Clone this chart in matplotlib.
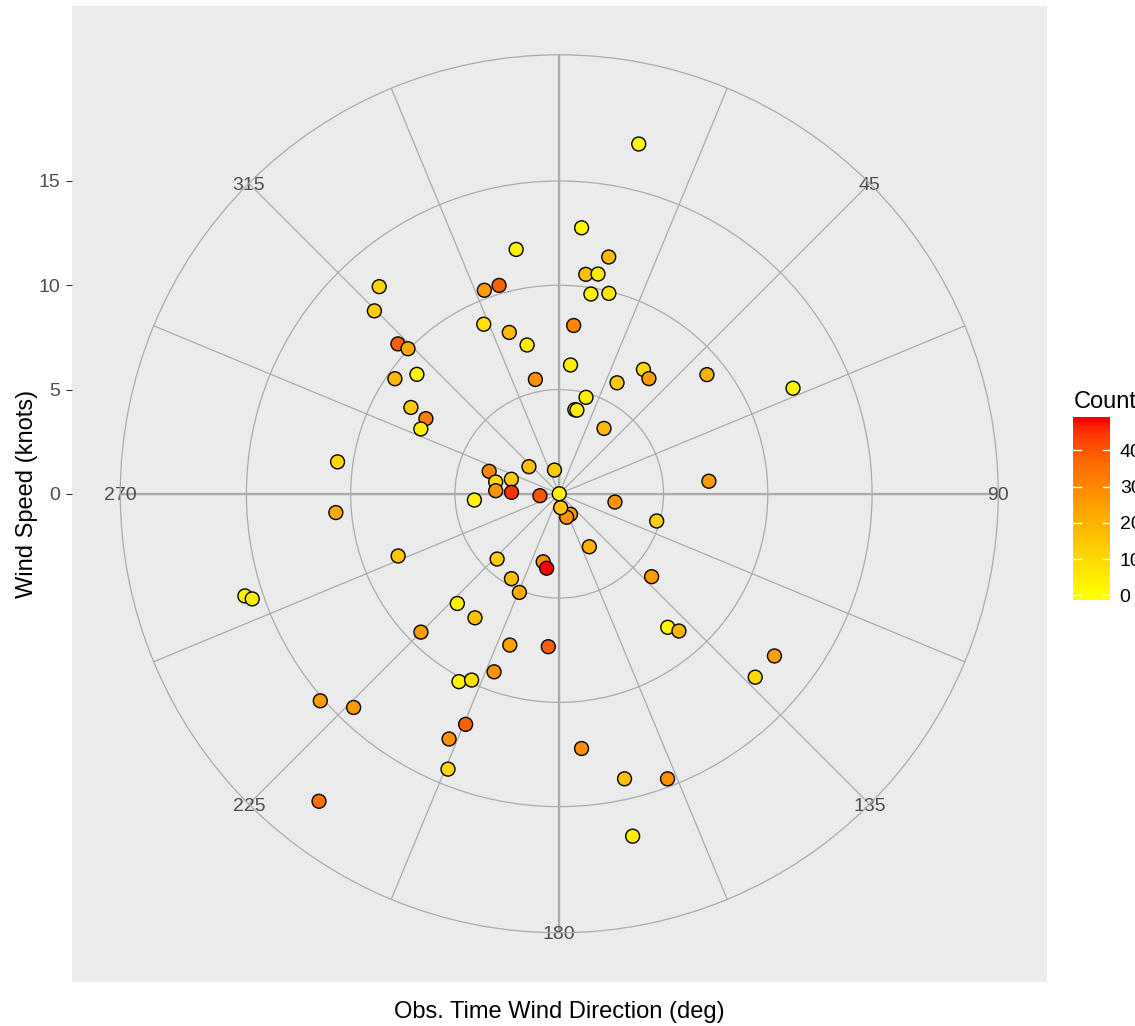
import numpy as np
import matplotlib
matplotlib.use("Agg")
import matplotlib.pyplot as plt
from matplotlib.colors import ListedColormap, Normalize

plt.rcParams["font.family"] = ["Liberation Sans", "DejaVu Sans"]

# ---- data: observed wind direction (deg), wind speed (knots), count ----
direction = [12.8, 4.8, 350.0, 11.8, 6.9, 10.0, 9.0, 13.9, 339.8, 343.9,
             336.0, 342.8, 347.8, 4.9, 5.0, 348.2, 15.5, 10.5, 11.9, 27.5,
             34.1, 37.9, 51.1, 65.7, 34.4, 85.2, 98.4, 105.6, 131.9, 140.9,
             138.9, 127.0, 133.1, 167.1, 159.2, 167.9, 175.0, 184.1, 198.1, 200.1,
             208.1, 205.2, 202.1, 204.2, 202.0, 222.9, 214.2, 225.0, 209.4, 202.0,
             223.6, 193.3, 189.6, 150.4, 151.4, 162.5, 174.2, 0.0, 264.4, 348.6,
             311.8, 287.8, 280.5, 286.9, 272.8, 271.8, 265.8, 299.4, 295.1, 300.2,
             310.0, 305.0, 312.9, 313.8, 314.7, 319.0, 278.2, 265.2, 248.9, 252.0,
             251.1, 229.1, 223.9, 218.0]
speed = [17.2, 12.8, 11.9, 11.6, 10.6, 10.7, 9.7, 9.9, 10.4, 10.4,
         8.9, 8.1, 7.3, 8.1, 6.2, 5.6, 4.8, 4.1, 4.1, 6.0,
         7.2, 7.0, 9.1, 12.3, 3.8, 7.2, 2.7, 4.85, 5.95, 8.25,
         8.73, 12.92, 12.87, 14.02, 14.62, 16.79, 12.26, 7.35, 7.63, 9.09,
         10.21, 9.87, 11.93, 12.89, 14.24, 7.18, 7.19, 9.38, 4.67, 5.10,
         4.32, 3.35, 3.62, 2.92, 1.12, 1.18, 0.67, 0.0, 0.93, 1.16,
         1.95, 3.53, 3.10, 2.40, 3.05, 2.29, 4.08, 7.34, 7.33, 8.23,
         8.91, 9.62, 10.56, 10.05, 12.47, 13.16, 10.74, 10.75, 8.28, 15.85,
         15.56, 15.16, 14.22, 18.71]
count = [2, 3, 4, 18, 17, 5, 3, 6, 25, 38,
         8, 18, 5, 30, 5, 28, 4, 2, 4, 14,
         10, 25, 20, 3, 18, 26, 27, 12, 26, 2,
         20, 24, 10, 17, 28, 5, 28, 38, 24, 27,
         3, 8, 38, 28, 10, 4, 16, 25, 17, 22,
         13, 28, 48, 20, 25, 27, 15, 3, 40, 14,
         17, 30, 9, 14, 27, 45, 3, 32, 5, 14,
         3, 18, 38, 22, 13, 12, 11, 22, 15, 3,
         5, 25, 26, 35]

speed_breaks = [0, 5, 10, 15]
theta_label_breaks = [45, 90, 135, 180, 225, 270, 315]
count_breaks = [0, 10, 20, 30, 40]
count_limits = (0, 48)


# ---- yellow -> red gradient interpolated in CIELAB ----
_M = np.array([[0.4124564, 0.3575761, 0.1804375],
               [0.2126729, 0.7151522, 0.0721750],
               [0.0193339, 0.1191920, 0.9503041]])
_WHITE = np.array([0.95047, 1.0, 1.08883])


def srgb_to_lab(rgb):
    rgb = np.asarray(rgb, float)
    lin = np.where(rgb <= 0.04045, rgb / 12.92, ((rgb + 0.055) / 1.055) ** 2.4)
    t = (_M @ lin) / _WHITE
    d = 6 / 29
    f = np.where(t > d ** 3, np.cbrt(t), t / (3 * d ** 2) + 4 / 29)
    return np.array([116 * f[1] - 16, 500 * (f[0] - f[1]), 200 * (f[1] - f[2])])


def lab_to_srgb(lab):
    L, a, b = lab[:, 0], lab[:, 1], lab[:, 2]
    fy = (L + 16) / 116
    fx = fy + a / 500
    fz = fy - b / 200
    d = 6 / 29
    finv = lambda f: np.where(f > d, f ** 3, 3 * d ** 2 * (f - 4 / 29))
    xyz = np.stack([finv(fx), finv(fy), finv(fz)], axis=-1) * _WHITE
    lin = np.clip(xyz @ np.linalg.inv(_M).T, 0, 1)
    srgb = np.where(lin <= 0.0031308, 12.92 * lin, 1.055 * lin ** (1 / 2.4) - 0.055)
    return np.clip(srgb, 0, 1)


t = np.linspace(0, 1, 256)[:, None]
lab_lo = srgb_to_lab([1.0, 1.0, 0.0])
lab_hi = srgb_to_lab([1.0, 0.0, 0.0])
cmap = ListedColormap(lab_to_srgb((1 - t) * lab_lo + t * lab_hi))
norm = Normalize(*count_limits)

# ---- layout ----
W, H = 1135, 1026
fig = plt.figure(figsize=(W / 100, H / 100), dpi=100)
fig.patch.set_facecolor("white")


def px_box(left, top, right, bottom):
    return [left / W, 1 - bottom / H, (right - left) / W, (bottom - top) / H]


r_max = max(speed)
r_outer = r_max * 0.45 / 0.4          # outer ring of the polar panel
half = r_max * 0.5 / 0.4              # half-width of the square panel

cx, cy, side = 559.25, 493.8, 975.5
grid_col = "#ABABAB"
text_col = "#4D4D4D"

# square grey panel carrying the radial (speed) axis
bg = fig.add_axes(px_box(cx - side / 2, cy - side / 2, cx + side / 2, cy + side / 2))
bg.set_facecolor("#EBEBEB")
for s in bg.spines.values():
    s.set_visible(False)
bg.set_xlim(-half, half)
bg.set_ylim(-half, half)
bg.set_xticks([])
bg.set_yticks(speed_breaks)
bg.set_yticklabels([str(v) for v in speed_breaks])
bg.tick_params(axis="y", length=4.3, width=0.8, color="#333333",
               labelcolor=text_col, labelsize=14, pad=3.6)

# polar panel
rad = 0.9 * side / 2
ax = fig.add_axes(px_box(cx - rad, cy - rad, cx + rad, cy + rad), projection="polar")
ax.set_facecolor("none")
ax.set_theta_zero_location("N")
ax.set_theta_direction(-1)
ax.set_ylim(0, r_outer)
ax.set_xticks(np.deg2rad(np.arange(0, 360, 22.5)))
ax.set_xticklabels([])
ax.set_yticks(speed_breaks[1:])
ax.set_yticklabels([])
ax.tick_params(length=0)
ax.grid(True, color=grid_col, lw=0.9)
ax.spines["polar"].set_color(grid_col)
ax.spines["polar"].set_linewidth(0.9)
ax.set_axisbelow(True)
for a in (0, 90, 180, 270):
    ax.plot([np.deg2rad(a)] * 2, [0, r_outer], color=grid_col, lw=1.6, zorder=0.5)

for a in theta_label_breaks:
    ax.text(np.deg2rad(a), r_outer, str(a), ha="center", va="center_baseline",
            fontsize=14, color=text_col, zorder=1)

ax.scatter(np.deg2rad(direction), speed, c=count, cmap=cmap, norm=norm,
           s=100, edgecolors="black", linewidths=1.0, zorder=3, clip_on=False)

# axis titles
fig.text(cx / W, 1 - 1012 / H, "Obs. Time Wind Direction (deg)",
         ha="center", va="center", fontsize=17)
fig.text(27 / W, 1 - cy / H, "Wind Speed (knots)", rotation=90,
         ha="center", va="center", fontsize=17)

# colour bar legend
lo = count_limits[0] - (count_limits[1] - count_limits[0]) / 38
hi = count_limits[1] + (count_limits[1] - count_limits[0]) / 38
cax = fig.add_axes(px_box(1073.3, 416.7, 1110, 600))
grad = np.linspace(lo, hi, 300).reshape(-1, 1)
cax.imshow(grad, aspect="auto", cmap=cmap, norm=norm, origin="lower",
           extent=[0, 1, lo, hi])
cax.set_xlim(0, 1)
cax.set_ylim(lo, hi)
for s in cax.spines.values():
    s.set_visible(False)
cax.set_xticks([])
cax.yaxis.tick_right()
cax.set_yticks(count_breaks)
cax.set_yticklabels([str(v) for v in count_breaks])
cax.tick_params(axis="y", length=0, labelsize=14, pad=7, labelcolor="black")
for v in count_breaks:
    cax.plot([0, 0.2], [v, v], color="white", lw=1)
    cax.plot([0.8, 1], [v, v], color="white", lw=1)
fig.text(1073.3 / W, 1 - 408 / H, "Count", ha="left", va="baseline", fontsize=17)

fig.savefig("out.png", dpi=100)
